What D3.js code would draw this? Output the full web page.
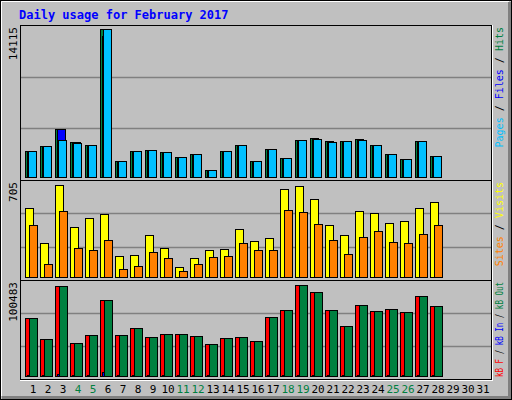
<!DOCTYPE html>
<html>
<head>
<meta charset="utf-8">
<script src="https://cdn.jsdelivr.net/npm/d3@7"></script>
<style>
  body { margin: 0; background: #fff; }
  text { font-family: "DejaVu Sans Mono", monospace; }
</style>
</head>
<body>
<div id="chart"></div>
<script>
var days = d3.range(1, 32);
var weekend = [4, 5, 11, 12, 18, 19, 25, 26];

// top panel
var hits  = [2510, 2990, 4550, 3370, 3080, 14115, 1560, 2510, 2610, 2410, 1940, 2220, 700, 2510, 3080, 1500, 2640, 1780, 3500, 3690, 3400, 3400, 3600, 3050, 2190, 1690, 3400, 1970];
var files = [2510, 2990, 4550, 3300, 3080, 13420, 1560, 2510, 2610, 2410, 1940, 2220, 700, 2510, 3080, 1500, 2640, 1780, 3500, 3600, 3310, 3400, 3500, 3050, 2190, 1690, 3400, 1970];
var pages = [2510, 2990, 3560, 3280, 3080, 14115, 1560, 2510, 2610, 2410, 1940, 2220, 700, 2510, 3080, 1500, 2640, 1780, 3500, 3600, 3310, 3400, 3500, 3050, 2190, 1690, 3400, 1970];
// middle panel
var visits = [525, 260, 700, 381, 450, 480, 162, 169, 321, 222, 78, 146, 207, 215, 366, 275, 298, 669, 692, 594, 397, 321, 503, 488, 412, 427, 525, 571];
var sites  = [397, 101, 503, 222, 207, 283, 63, 86, 192, 146, 48, 101, 154, 162, 260, 207, 207, 510, 495, 404, 283, 177, 306, 351, 268, 260, 328, 397];
// bottom panel
var kbF   = [63780, 40400, 99500, 35950, 44860, 83800, 44860, 52650, 42630, 45970, 45970, 43740, 34840, 41520, 42630, 38180, 64900, 72680, 100483, 92700, 72680, 54870, 78250, 71570, 73800, 70450, 88260, 77130];
var kbIn  = [900, 900, 2500, 800, 900, 4000, 900, 900, 800, 900, 900, 800, 700, 800, 900, 800, 900, 1000, 1200, 1100, 900, 800, 900, 900, 900, 900, 1000, 900];
var kbOut = kbF;

var maxLabels = ["14115", "705", "100483"];

var W = 512, H = 400, left = 20, right = 491;
var svg = d3.select("#chart").append("svg").attr("width", W).attr("height", H);

svg.append("rect").attr("x", 0).attr("y", 0).attr("width", W).attr("height", H).attr("fill", "#c0c0c0");
svg.append("rect").attr("x", 0.5).attr("y", 0.5).attr("width", W - 1).attr("height", H - 1)
  .attr("fill", "none").attr("stroke", "#000");
svg.append("path").attr("d", "M2,397.5H509.5V2").attr("fill", "none").attr("stroke", "#808080").attr("stroke-width", 3);
svg.append("path").attr("d", "M1.5,396V1.5H509").attr("fill", "none").attr("stroke", "#fff");

svg.append("text").attr("x", 19).attr("y", 19).attr("fill", "#0000ff")
  .style("font-size", "12px").style("font-weight", "bold").text("Daily usage for February 2017");

var x = d3.scaleBand().domain(days).range([25, 490]);

var panels = [
  { top: 25, bottom: 180, base: 177, peak: 29, max: 14115,
    series: [[hits, "#008040", 0], [files, "#0000ff", 2], [pages, "#00c0ff", 3]],
    legend: [["Pages", "#00c0ff"], [" / ", "#000"], ["Files", "#0000ff"], [" / ", "#000"], ["Hits", "#008040"]] },
  { top: 180, bottom: 280, base: 277, peak: 184, max: 705,
    series: [[visits, "#ffff00", 0], [sites, "#ff8000", 4]],
    legend: [["Sites", "#ff8000"], [" / ", "#000"], ["Visits", "#ffff00"]] },
  { top: 280, bottom: 379, base: 376, peak: 285, max: 100483,
    series: [[kbF, "#ff0000", 0], [kbIn, "#0000ff", 2], [kbOut, "#008040", 4]],
    legend: [["kB F", "#ff0000"], [" / ", "#000"], ["kB In", "#0000ff"], [" / ", "#000"], ["kB Out", "#008040"]] }
];

panels.forEach(function (p, pi) {
  svg.append("rect").attr("x", left + 0.5).attr("y", p.top + 0.5)
    .attr("width", right - left).attr("height", p.bottom - p.top)
    .attr("fill", "#c0c0c0").attr("stroke", "#000").attr("stroke-width", 1);
  svg.append("line").attr("x1", left).attr("x2", right + 1)
    .attr("y1", p.bottom + 1.5).attr("y2", p.bottom + 1.5).attr("stroke", "#fff");
  svg.append("line").attr("x1", right + 1.5).attr("x2", right + 1.5)
    .attr("y1", p.top).attr("y2", p.bottom + 2).attr("stroke", "#fff");

  var y = d3.scaleLinear().domain([0, p.max]).range([p.base, p.peak]);
  var span = p.bottom - p.top;
  [1, 2].forEach(function (k) {
    var gy = Math.round(p.top + span * k / 3) + 0.5;
    svg.append("line").attr("x1", left + 1).attr("x2", right)
      .attr("y1", gy).attr("y2", gy).attr("stroke", "#808080").attr("stroke-width", 1.5);
  });

  p.series.forEach(function (s) {
    svg.append("g").selectAll("rect").data(s[0]).enter().append("rect")
      .attr("x", function (d, i) { return x(i + 1) + s[2] + 0.5; })
      .attr("y", function (d) { return Math.round(y(d)) + 0.5; })
      .attr("width", 8)
      .attr("height", function (d) { return Math.max(0, p.base - Math.round(y(d))); })
      .attr("fill", s[1]).attr("stroke", "#000").attr("stroke-width", 1);
  });

  svg.append("text").attr("transform", "translate(17," + (p.top + 2) + ") rotate(-90)")
    .attr("text-anchor", "end").style("font-size", "11px").attr("fill", "#000")
    .text(maxLabels[pi]);

  var t = svg.append("text").attr("transform", "translate(503," + (p.top + 2) + ") rotate(-90)")
    .attr("text-anchor", "end").style("font-size", "10px");
  p.legend.forEach(function (l) { t.append("tspan").attr("fill", l[1]).text(l[0]); });
  var len = t.node().getComputedTextLength();
  if (len > span - 4) {
    t.attr("textLength", span - 4).attr("lengthAdjust", "spacingAndGlyphs");
  }
});

svg.append("g").selectAll("text").data(days).enter().append("text")
  .attr("x", function (d) { return x(d) + 8; })
  .attr("y", 393).attr("text-anchor", "middle").style("font-size", "11px")
  .attr("fill", function (d) { return weekend.indexOf(d) >= 0 ? "#008040" : "#000"; })
  .text(function (d) { return d; });
</script>
</body>
</html>
